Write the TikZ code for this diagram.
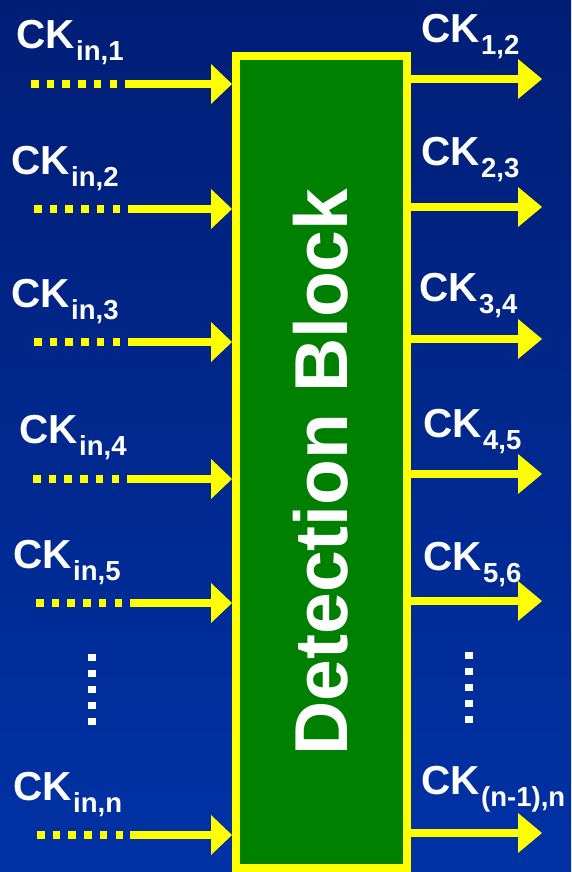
\documentclass[tikz,border=0pt]{standalone}
\usepackage{fontspec}
\setmainfont{Liberation Sans}
\usetikzlibrary{arrows.meta}

\definecolor{bgtop}{RGB}{0,30,118}
\definecolor{bgbot}{RGB}{0,50,165}
\definecolor{blockgreen}{RGB}{0,128,0}
\definecolor{wireyellow}{RGB}{255,255,0}

% clock label: large "CK" with a lowered subscript
\newcommand{\cklabel}[1]{CK\kern1.5pt\raisebox{-12pt}{\fontsize{27.5}{27.5}\selectfont #1}}

\tikzset{
  block/.style={draw=wireyellow, line width=8pt, fill=blockgreen,
    minimum width=171pt, minimum height=812pt, inner sep=0pt, outer sep=4pt},
  title/.style={text=white, rotate=90, anchor=base, inner sep=0pt,
    font=\fontsize{75}{75}\selectfont\bfseries},
  cklab/.style={text=white, anchor=base west, inner sep=0pt,
    font=\fontsize{40.5}{40.5}\selectfont\bfseries},
  dotwire/.style={draw=wireyellow, line width=8pt, line cap=butt,
    dash pattern=on 7.5pt off 8.2pt},
  inwire/.style={draw=wireyellow, line width=8pt,
    -{Triangle[length=21pt,width=40pt,line width=0pt]}},
  outwire/.style={draw=wireyellow, line width=8pt,
    -{Triangle[length=24pt,width=40pt,line width=0pt]}},
  ellip/.style={draw=white, line width=7.5pt, line cap=butt,
    dash pattern=on 7pt off 9pt}
}

\begin{document}
\begin{tikzpicture}[x=1pt,y=-1pt]
  % background
  \shade[top color=bgtop, bottom color=bgbot] (0,0) rectangle (571,872);
  \useasboundingbox (0,0) rectangle (571,872);

  % detection block
  \node[block] (blk) at (321.5,462) {};
  \node[title] (ttl) at (347,472) {Detection Block};

  % input clocks: dotted lead-in, then solid arrow into the block
  \foreach \i/\y/\xs/\xj in {1/84/31/133, 2/209/34/134, 3/342/34/134,
                             4/479/33/133, 5/603/36/130, 6/835/37/130} {
    \coordinate (s\i) at (\xs,\y);
    \coordinate (j\i) at (\xj,\y);
    \draw[dotwire] (s\i) -- (j\i);
    \draw[inwire] (j\i) -- (j\i -| blk.west);
  }

  % output clocks
  \foreach \i/\y in {1/79, 2/207, 3/339, 4/474, 5/601, 6/833} {
    \coordinate (o\i) at (542,\y);
    \draw[outwire] (o\i -| blk.east) -- (o\i);
  }

  % input labels
  \node[cklab] (li1) at (16,49)  {\cklabel{in,1}};
  \node[cklab] (li2) at (11,174) {\cklabel{in,2}};
  \node[cklab] (li3) at (11,307) {\cklabel{in,3}};
  \node[cklab] (li4) at (19,443) {\cklabel{in,4}};
  \node[cklab] (li5) at (13,568) {\cklabel{in,5}};
  \node[cklab] (li6) at (13,800) {\cklabel{in,n}};

  % output labels
  \node[cklab] (lo1) at (421,43)  {\cklabel{1,2}};
  \node[cklab] (lo2) at (421,165) {\cklabel{2,3}};
  \node[cklab] (lo3) at (419,301) {\cklabel{3,4}};
  \node[cklab] (lo4) at (423,437) {\cklabel{4,5}};
  \node[cklab] (lo5) at (423,570) {\cklabel{5,6}};
  \node[cklab] (lo6) at (421,794) {\cklabel{(n-1),n}};

  % vertical ellipses
  \coordinate (el1) at (92,654);
  \coordinate (el2) at (92,726);
  \coordinate (er1) at (469,652);
  \coordinate (er2) at (469,724);
  \draw[ellip] (el1) -- (el2);
  \draw[ellip] (er1) -- (er2);
\end{tikzpicture}
\end{document}
